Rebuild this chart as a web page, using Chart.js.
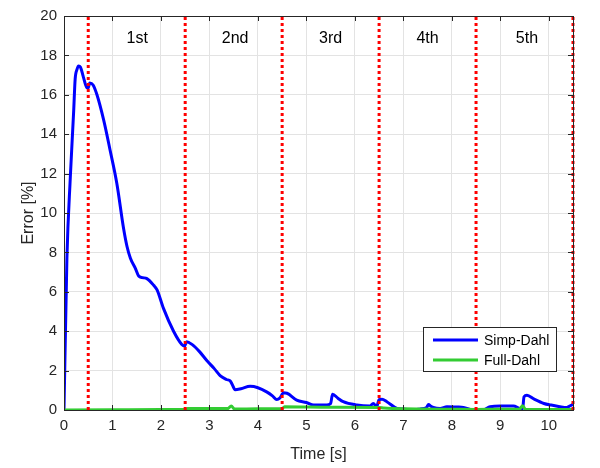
<!DOCTYPE html>
<html>
<head>
<meta charset="utf-8">
<script src="https://cdn.jsdelivr.net/npm/chart.js@4.4.1/dist/chart.umd.min.js"></script>
<style>
html,body{margin:0;padding:0;background:#fff;}
#wrap{width:600px;height:468px;}
</style>
</head>
<body>
<div id="wrap"><canvas id="c" width="600" height="468"></canvas></div>
<script>
// ---- data ----
const simpTime = [0,0.06,0.13,0.2,0.23,0.27,0.3,0.34,0.4,0.47,0.5,0.53,0.6,0.68,0.82,0.95,1.09,1.23,1.3,1.37,1.47,1.54,1.62,1.71,1.85,1.92,2.05,2.26,2.43,2.49,2.53,2.64,2.8,2.95,3.1,3.22,3.35,3.43,3.47,3.53,3.65,3.84,4.0,4.18,4.3,4.39,4.45,4.53,4.6,4.8,5.0,5.15,5.3,5.42,5.5,5.54,5.65,5.76,6.04,6.31,6.38,6.45,6.5,6.56,6.66,6.87,7.0,7.2,7.35,7.48,7.52,7.56,7.62,7.76,7.9,8.1,8.24,8.45,8.65,8.79,9.0,9.27,9.4,9.46,9.49,9.55,9.7,9.9,10.05,10.23,10.37,10.47,10.5];
const simpErr  = [0,7.7,11.8,15.2,16.8,17.3,17.46,17.4,16.9,16.37,16.35,16.6,16.5,16.0,14.7,13.2,11.5,9.2,8.3,7.7,7.2,6.8,6.72,6.67,6.33,6.1,5.17,4.0,3.33,3.25,3.47,3.33,2.95,2.5,2.1,1.75,1.55,1.47,1.3,1.03,1.08,1.2,1.13,0.92,0.72,0.53,0.6,0.87,0.85,0.5,0.38,0.25,0.25,0.25,0.33,0.8,0.6,0.42,0.25,0.2,0.33,0.17,0.53,0.55,0.42,0.08,0.05,0.0,0.05,0.13,0.28,0.2,0.13,0.08,0.17,0.15,0.13,0.0,0.0,0.17,0.2,0.2,0.08,0.05,0.67,0.75,0.55,0.33,0.25,0.17,0.13,0.25,0.28];
const fullTime = [0,1.0,2.0,2.5,2.55,3.0,3.38,3.45,3.52,4.0,4.5,4.55,5.5,6.5,6.6,7.0,8.0,8.5,9.0,9.4,9.46,9.52,10.0,10.5];
const fullErr  = [0,0.01,0.02,0.03,0.08,0.07,0.07,0.2,0.05,0.06,0.07,0.17,0.14,0.13,0.1,0.06,0.04,0.03,0.04,0.05,0.22,0.03,0.02,0.02];
const phaseBounds = [0.5,2.5,4.5,6.5,8.5,10.5];
const phaseLabels = ["1st","2nd","3rd","4th","5th"];
const phaseCenters = [1.51,3.53,5.5,7.5,9.55];
const phaseLabelY = 18.85;
const xTicks = [0,1,2,3,4,5,6,7,8,9,10];
const yTicks = [0,2,4,6,8,10,12,14,16,18,20];
const seriesNames = ["Simp-Dahl","Full-Dahl"];

const FONT = "'Liberation Sans', Arial, Helvetica, sans-serif";
const BLUE = "#0000ff", GREEN = "#33cc33", RED = "#ff0000", AXC = "#262626";

const datasets = [];
phaseBounds.forEach(b => {
  datasets.push({label:"_b", data:[{x:b,y:0},{x:b,y:20}], borderColor:RED, borderWidth:3,
    borderDash:[3,3], pointRadius:0, order:0, clip:false});
});
datasets.push({label:seriesNames[1], data:fullTime.map((t,i)=>({x:t,y:fullErr[i]})),
  borderColor:GREEN, borderWidth:3, pointRadius:0, cubicInterpolationMode:'monotone', order:1});
datasets.push({label:seriesNames[0], data:simpTime.map((t,i)=>({x:t,y:simpErr[i]})),
  borderColor:BLUE, borderWidth:3, pointRadius:0, cubicInterpolationMode:'monotone', order:2});

const overlay = {
  id:'overlay',
  afterDraw(chart){
    const {ctx, chartArea:a, scales:{x,y}} = chart;
    ctx.save();
    ctx.strokeStyle = AXC; ctx.lineWidth = 1;
    ctx.strokeRect(Math.round(a.left)+0.5, Math.round(a.top)+0.5, Math.round(a.right-a.left), Math.round(a.bottom-a.top));
    ctx.beginPath();
    xTicks.forEach(v=>{ const px=Math.round(x.getPixelForValue(v))+0.5;
      ctx.moveTo(px,a.bottom); ctx.lineTo(px,a.bottom-5);
      ctx.moveTo(px,a.top); ctx.lineTo(px,a.top+5); });
    yTicks.forEach(v=>{ const py=Math.round(y.getPixelForValue(v))+0.5;
      ctx.moveTo(a.left,py); ctx.lineTo(a.left+5,py);
      ctx.moveTo(a.right,py); ctx.lineTo(a.right-5,py); });
    ctx.stroke();
    ctx.fillStyle = "#000"; ctx.font = "16px " + FONT;
    ctx.textAlign = "center"; ctx.textBaseline = "middle";
    phaseLabels.forEach((s,i)=>ctx.fillText(s, x.getPixelForValue(phaseCenters[i]), y.getPixelForValue(phaseLabelY)));
    const lx = a.right - 150, ly = a.top + 311, lw = 133, lh = 44;
    ctx.fillStyle = "#fff"; ctx.fillRect(lx, ly, lw, lh);
    ctx.strokeStyle = AXC; ctx.lineWidth = 1;
    ctx.strokeRect(lx+0.5, ly+0.5, lw, lh);
    const cols = [BLUE, GREEN];
    seriesNames.forEach((n,i)=>{
      const yy = ly + 13 + i*20;
      ctx.strokeStyle = cols[i]; ctx.lineWidth = 3;
      ctx.beginPath(); ctx.moveTo(lx+10, yy); ctx.lineTo(lx+55, yy); ctx.stroke();
      ctx.fillStyle = "#000"; ctx.textAlign = "left"; ctx.textBaseline = "middle";
      ctx.font = "14px " + FONT;
      ctx.fillText(n, lx+61, yy+1);
    });
    ctx.restore();
  }
};

new Chart(document.getElementById('c'), {
  type:'line',
  data:{datasets},
  plugins:[overlay],
  options:{
    responsive:false, animation:false, devicePixelRatio:1,
    layout:{padding:{top:10, right:27, left:0, bottom:0}},
    plugins:{legend:{display:false}, tooltip:{enabled:false}},
    scales:{
      x:{type:'linear', min:0, max:10.5,
        afterBuildTicks(s){ s.ticks = xTicks.map(v=>({value:v})); },
        afterFit(s){ s.height = 58; },
        grid:{color:"#e3e3e3", drawTicks:false, tickLength:0},
        border:{display:false},
        ticks:{color:"#262626", font:{size:15, family:FONT}, padding:7, maxRotation:0, autoSkip:false},
        title:{display:true, text:"Time [s]", color:"#262626", font:{size:16, family:FONT}, padding:{top:2}}
      },
      y:{type:'linear', min:0, max:20,
        afterBuildTicks(s){ s.ticks = yTicks.map(v=>({value:v})); },
        afterFit(s){ s.width = 64; },
        grid:{color:"#e3e3e3", drawTicks:false, tickLength:0},
        border:{display:false},
        ticks:{color:"#262626", font:{size:15, family:FONT}, padding:7, autoSkip:false},
        title:{display:true, text:"Error [%]", color:"#262626", font:{size:16, family:FONT}, padding:{top:19, bottom:0}}
      }
    }
  }
});
</script>
</body>
</html>
